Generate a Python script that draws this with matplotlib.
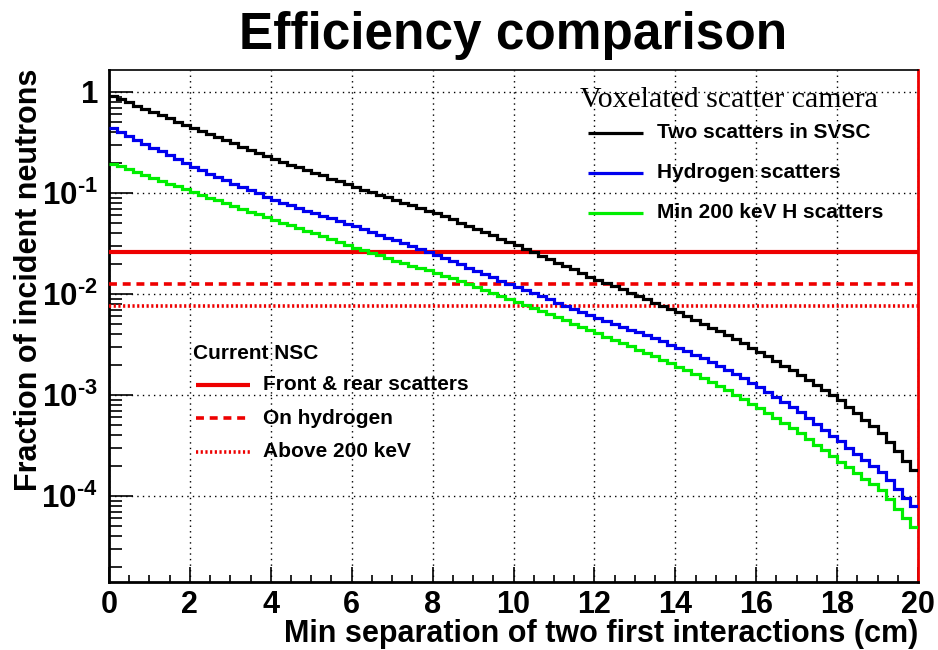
import numpy as np
import matplotlib
matplotlib.use("Agg")
import matplotlib.pyplot as plt
from matplotlib.ticker import LogLocator, FixedLocator, MultipleLocator, NullFormatter

plt.rcParams['font.family'] = 'Liberation Sans'
plt.rcParams['font.weight'] = 'bold'
plt.rcParams['mathtext.fontset'] = 'custom'
plt.rcParams['mathtext.rm'] = 'Liberation Sans:bold'
plt.rcParams['mathtext.it'] = 'Liberation Sans:bold'
plt.rcParams['mathtext.bf'] = 'Liberation Sans:bold'

################################################################################
# histogram binning: 100 bins of 0.2 cm over 0-20 cm
bin_edges = np.linspace(0, 20, 101)

# fraction of incident neutrons per bin - voxelated scatter camera
two_scatters_svsc = [
    0.912, 0.847, 0.787, 0.731, 0.679, 0.631, 0.587, 0.547, 0.508, 0.473,
    0.441, 0.410, 0.382, 0.356, 0.332, 0.309, 0.288, 0.269, 0.250, 0.233,
    0.217, 0.204, 0.191, 0.180, 0.169, 0.158, 0.149, 0.139, 0.131, 0.122,
    0.115, 0.108, 0.102, 0.0959, 0.0904, 0.0851, 0.0802, 0.0755, 0.0711, 0.0670,
    0.0631, 0.0587, 0.0547, 0.0509, 0.0474, 0.0442, 0.0410, 0.0381, 0.0354, 0.0329,
    0.0305, 0.0282, 0.0260, 0.0240, 0.0221, 0.0204, 0.0189, 0.0175, 0.0161, 0.0149,
    0.0138, 0.0128, 0.0119, 0.0111, 0.0103, 0.00955, 0.00887, 0.00824, 0.00766, 0.00711,
    0.00661, 0.00605, 0.00555, 0.00508, 0.00466, 0.00427, 0.00389, 0.00355, 0.00324, 0.00295,
    0.00269, 0.00242, 0.00218, 0.00196, 0.00176, 0.00158, 0.00141, 0.00126, 0.00112, 0.00100,
    0.000891, 0.000767, 0.000661, 0.000568, 0.000489, 0.000421, 0.000341, 0.000277, 0.000224, 0.000182,
]

hydrogen_scatters = [
    0.437, 0.400, 0.366, 0.336, 0.308, 0.282, 0.258, 0.236, 0.216, 0.198,
    0.181, 0.167, 0.155, 0.144, 0.133, 0.123, 0.114, 0.106, 0.0989, 0.0918,
    0.0853, 0.0804, 0.0757, 0.0711, 0.0670, 0.0631, 0.0594, 0.0560, 0.0527, 0.0497,
    0.0468, 0.0439, 0.0411, 0.0385, 0.0361, 0.0339, 0.0317, 0.0296, 0.0278, 0.0260,
    0.0243, 0.0226, 0.0211, 0.0196, 0.0182, 0.0170, 0.0158, 0.0147, 0.0136, 0.0126,
    0.0117, 0.0109, 0.0102, 0.00948, 0.00883, 0.00822, 0.00766, 0.00713, 0.00664, 0.00618,
    0.00575, 0.00540, 0.00506, 0.00474, 0.00445, 0.00417, 0.00389, 0.00363, 0.00339, 0.00316,
    0.00295, 0.00272, 0.00250, 0.00230, 0.00212, 0.00195, 0.00177, 0.00161, 0.00146, 0.00132,
    0.00120, 0.00107, 0.000955, 0.000851, 0.000759, 0.000676, 0.000592, 0.000518, 0.000453, 0.000396,
    0.000347, 0.000302, 0.000263, 0.000229, 0.000200, 0.000174, 0.000143, 0.000117, 0.0000966, 0.0000794,
]

min200kev_h_scatters = [
    0.195, 0.183, 0.171, 0.161, 0.151, 0.141, 0.132, 0.124, 0.116, 0.109,
    0.102, 0.0959, 0.0900, 0.0843, 0.0791, 0.0741, 0.0697, 0.0653, 0.0614, 0.0575,
    0.0541, 0.0508, 0.0479, 0.0450, 0.0424, 0.0398, 0.0373, 0.0350, 0.0328, 0.0308,
    0.0288, 0.0272, 0.0256, 0.0241, 0.0227, 0.0214, 0.0202, 0.0191, 0.0181, 0.0171,
    0.0162, 0.0152, 0.0143, 0.0134, 0.0125, 0.0117, 0.0110, 0.0102, 0.00955, 0.00891,
    0.00832, 0.00776, 0.00724, 0.00676, 0.00631, 0.00589, 0.00547, 0.00508, 0.00472, 0.00439,
    0.00407, 0.00378, 0.00352, 0.00327, 0.00303, 0.00282, 0.00261, 0.00241, 0.00223, 0.00206,
    0.00191, 0.00175, 0.00160, 0.00147, 0.00134, 0.00123, 0.00111, 0.00100, 0.000908, 0.000820,
    0.000741, 0.000661, 0.000589, 0.000525, 0.000468, 0.000417, 0.000366, 0.000322, 0.000283, 0.000249,
    0.000219, 0.000192, 0.000169, 0.000149, 0.000131, 0.000115, 0.0000933, 0.0000750, 0.0000605, 0.0000490,
]

# current NSC reference levels (flat in separation)
nsc_front_rear = 0.026
nsc_hydrogen = 0.0126
nsc_above200 = 0.0076

camera_labels = ["Two scatters in SVSC", "Hydrogen scatters", "Min 200 keV H scatters"]
camera_colors = ["black", "#0000ee", "#00ee00"]
nsc_labels = ["Front & rear scatters", "On hydrogen", "Above 200 keV"]
nsc_styles = ["-", (0, (2.2, 1.6)), (0, (0.6, 0.7))]
nsc_widths = [3.0, 2.6, 2.6]
################################################################################

fig = plt.figure(figsize=(9.38, 6.5), dpi=100)
ax = fig.add_axes([109 / 938, 1 - 582 / 650, 809 / 938, 512 / 650])

# red horizontal levels
for level, ls, lw in zip([nsc_front_rear, nsc_hydrogen, nsc_above200], nsc_styles, nsc_widths):
    ax.plot([bin_edges[0], bin_edges[-1]], [level, level], color='#ee0000',
            linestyle=ls, linewidth=lw, dash_capstyle='butt', zorder=3)

# camera histograms
for vals, c in zip([two_scatters_svsc, hydrogen_scatters, min200kev_h_scatters], camera_colors):
    ax.stairs(vals, bin_edges, color=c, linewidth=2.3, baseline=None, zorder=4)

ax.set_yscale('log')
ax.set_xlim(0, 20)
ax.set_ylim(1.41e-5, 1.65)

# axes / ticks in ROOT style
ax.xaxis.set_major_locator(MultipleLocator(2))
ax.xaxis.set_minor_locator(MultipleLocator(0.5))
ax.yaxis.set_major_locator(FixedLocator([1e-4, 1e-3, 1e-2, 1e-1, 1]))
ax.yaxis.set_minor_locator(LogLocator(base=10, subs=np.arange(2, 10)))
ax.yaxis.set_minor_formatter(NullFormatter())
ax.set_yticklabels([r'$10^{\mathrm{‐4}}$', r'$10^{\mathrm{‐3}}$', r'$10^{\mathrm{‐2}}$',
                    r'$10^{\mathrm{‐1}}$', '1'])
ax.set_xticks(np.arange(0, 21, 2))
ax.set_xticklabels([str(v) for v in range(0, 21, 2)])

ax.tick_params(axis='y', which='major', direction='in', length=17, width=1.2,
               labelsize=22.5, pad=8)
ax.tick_params(axis='y', which='minor', direction='in', length=9, width=1.2)
ax.tick_params(axis='x', which='major', direction='in', length=11, width=1.2,
               labelsize=22, pad=6)
ax.tick_params(axis='x', which='minor', direction='in', length=5, width=1.2)

ax.grid(True, which='major', color='black', linestyle=(0, (1, 3)), linewidth=1.0)

for side in ['left', 'bottom']:
    ax.spines[side].set_linewidth(2.0)
ax.spines['top'].set_linewidth(1.2)
ax.spines['right'].set_linewidth(2.0)
ax.spines['right'].set_color('#ee0000')

ax.set_ylabel("Fraction of incident neutrons", fontsize=22, fontweight='bold')
ax.yaxis.set_label_coords(-0.080, 0.59)
ax.set_xlabel("Min separation of two first interactions (cm)", fontsize=22,
              fontweight='bold', ha='right')
ax.xaxis.set_label_coords(1.0, -0.072)

fig.text(0.547, 0.946, "Efficiency comparison", fontsize=37, fontweight='bold',
         ha='center', va='center')

################################################################################
# legend boxes drawn by hand
ax.text(0.582, 0.941, "Voxelated scatter camera", transform=ax.transAxes,
        family='Liberation Serif', fontweight='normal', fontsize=21.5, va='center', ha='left')
for lab, c, yy in zip(camera_labels, camera_colors, [0.877, 0.799, 0.721]):
    ax.plot([0.592, 0.660], [yy, yy], color=c, linewidth=2.3, transform=ax.transAxes,
            solid_capstyle='butt', zorder=5)
    ax.text(0.677, yy, lab, transform=ax.transAxes, fontsize=15, fontweight='bold',
            va='center', ha='left')

ax.text(0.104, 0.447, "Current NSC", transform=ax.transAxes, fontsize=15,
        fontweight='bold', va='center', ha='left')
for lab, ls, lw, yy in zip(nsc_labels, nsc_styles, nsc_widths, [0.385, 0.320, 0.254]):
    ax.plot([0.1075, 0.174], [yy, yy], color='#ee0000', linestyle=ls, linewidth=lw,
            transform=ax.transAxes, dash_capstyle='butt', solid_capstyle='butt', zorder=5)
    ax.text(0.190, yy, lab, transform=ax.transAxes, fontsize=15, fontweight='bold',
            va='center', ha='left')
################################################################################

fig.savefig('out.png', dpi=100)
